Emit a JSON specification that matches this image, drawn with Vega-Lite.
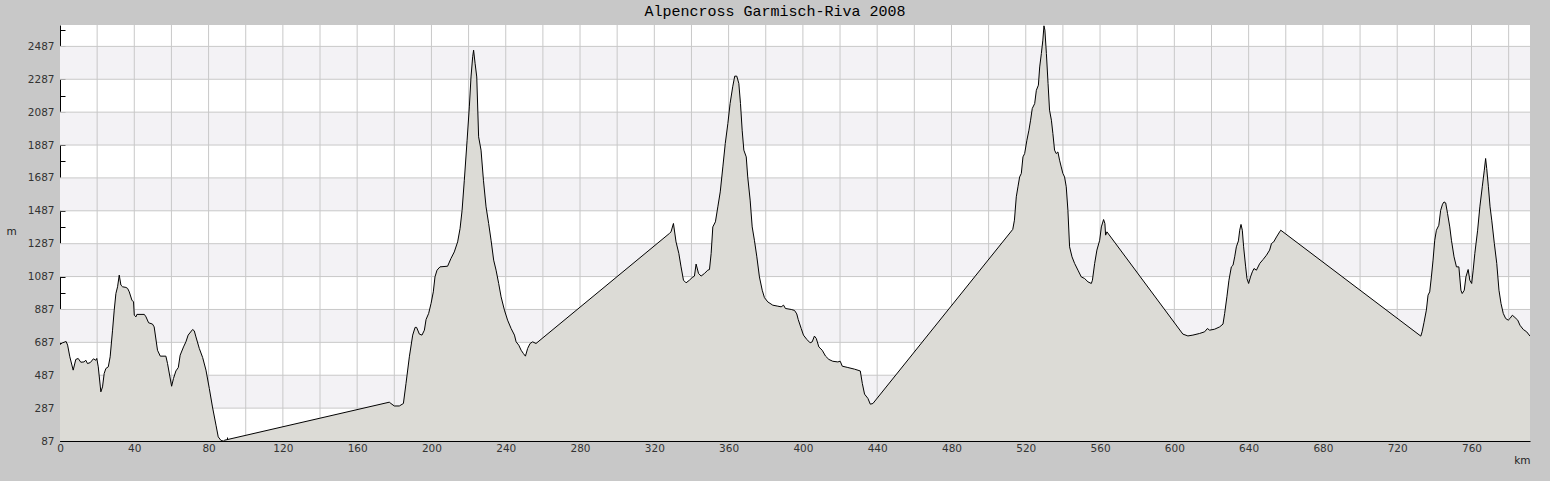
{
"$schema": "https://vega.github.io/schema/vega-lite/v6.json",
"width": 1470, "height": 416,
"autosize": {"type": "none"},
"padding": {"left": 60, "top": 25, "right": 20, "bottom": 40},
"background": "#c8c8c8",
"title": {"text": "Alpencross Garmisch-Riva 2008", "font": "Liberation Mono", "fontSize": 15, "fontWeight": "normal", "color": "#000000", "anchor": "middle", "frame": "group", "dx": -20, "offset": 6},
"config": {
 "view": {"stroke": null, "fill": "#ffffff"},
 "axis": {"zindex": 2, "grid": false, "labelOverlap": false, "labelFlush": false, "tickColor": "#000000", "domainColor": "#000000", "domainWidth": 1, "labelFont": "DejaVu Sans", "labelFontSize": 10.5, "labelColor": "#333333", "titleFont": "DejaVu Sans", "titleFontSize": 10.5, "titleFontWeight": "normal", "titleColor": "#222222"},
 "axisX": {"tickSize": -4, "labelPadding": 6, "titleAnchor": "end", "titleAlign": "right", "titleBaseline": "alphabetic", "titleX": 1470, "titleY": 22},
 "axisY": {"tickSize": -5, "labelPadding": 11, "titleAngle": 0, "titleAlign": "center", "titleBaseline": "middle", "titleX": -49, "titleY": 206}
},
"datasets": {
"bands": [{"lo":287,"hi":487},{"lo":687,"hi":887},{"lo":1087,"hi":1287},{"lo":1487,"hi":1687},{"lo":1887,"hi":2087},{"lo":2287,"hi":2487}],
"vgrid": [{"km":20},{"km":40},{"km":60},{"km":80},{"km":100},{"km":120},{"km":140},{"km":160},{"km":180},{"km":200},{"km":220},{"km":240},{"km":260},{"km":280},{"km":300},{"km":320},{"km":340},{"km":360},{"km":380},{"km":400},{"km":420},{"km":440},{"km":460},{"km":480},{"km":500},{"km":520},{"km":540},{"km":560},{"km":580},{"km":600},{"km":620},{"km":640},{"km":660},{"km":680},{"km":700},{"km":720},{"km":740},{"km":760},{"km":780}],
"hgrid": [{"m":287},{"m":487},{"m":687},{"m":887},{"m":1087},{"m":1287},{"m":1487},{"m":1687},{"m":1887},{"m":2087},{"m":2287},{"m":2487}],
"profile": [
{"km":0,"m":674},{"km":1.3,"m":684},{"km":3.3,"m":692},{"km":4.1,"m":670},{"km":5.3,"m":599},{"km":7.1,"m":518},{"km":8.5,"m":583},{"km":9.8,"m":589},{"km":11.2,"m":566},{"km":12.9,"m":568},{"km":13.9,"m":578},{"km":14.8,"m":558},{"km":16.3,"m":564},{"km":18,"m":587},{"km":19.3,"m":578},{"km":19.8,"m":589},{"km":20.6,"m":538},{"km":22,"m":386},{"km":22.9,"m":416},{"km":23.8,"m":498},{"km":24.7,"m":528},{"km":26,"m":538},{"km":27,"m":599},{"km":28.3,"m":761},{"km":29.2,"m":883},{"km":30.1,"m":984},{"km":31,"m":1025},{"km":31.9,"m":1096},{"km":32.8,"m":1035},{"km":33.7,"m":1025},{"km":35.5,"m":1021},{"km":36.4,"m":1015},{"km":37.3,"m":994},{"km":38.7,"m":944},{"km":39.6,"m":933},{"km":40,"m":852},{"km":40.9,"m":842},{"km":41.4,"m":857},{"km":45.4,"m":857},{"km":46.3,"m":842},{"km":47.7,"m":806},{"km":49.8,"m":798},{"km":50.7,"m":781},{"km":52.5,"m":639},{"km":54,"m":603},{"km":57,"m":603},{"km":57.9,"m":558},{"km":60.1,"m":420},{"km":61.1,"m":467},{"km":62.4,"m":513},{"km":63.7,"m":534},{"km":64.7,"m":609},{"km":66.5,"m":659},{"km":67.8,"m":690},{"km":69,"m":731},{"km":71.4,"m":765},{"km":72.3,"m":757},{"km":73.2,"m":720},{"km":75,"m":650},{"km":76.8,"m":595},{"km":78.6,"m":518},{"km":80.4,"m":406},{"km":82.1,"m":294},{"km":84,"m":183},{"km":85.2,"m":112},{"km":86.7,"m":90},{"km":88,"m":87},{"km":88.7,"m":92},
{"km":177.3,"m":323},{"km":178.2,"m":315},{"km":180,"m":300},{"km":182.7,"m":300},{"km":184.9,"m":315},{"km":186.3,"m":437},{"km":188.1,"m":599},{"km":189.9,"m":731},{"km":191.2,"m":778},{"km":192,"m":778},{"km":193.5,"m":737},{"km":194.9,"m":731},{"km":196.2,"m":761},{"km":197.1,"m":826},{"km":198.5,"m":863},{"km":199.8,"m":924},{"km":201,"m":994},{"km":201.9,"m":1085},{"km":203,"m":1126},{"km":204.6,"m":1146},{"km":208.7,"m":1150},{"km":210.5,"m":1197},{"km":212.3,"m":1237},{"km":214.1,"m":1298},{"km":215.4,"m":1379},{"km":216.5,"m":1490},{"km":217.7,"m":1673},{"km":219.2,"m":1916},{"km":220.4,"m":2119},{"km":221.3,"m":2301},{"km":222.2,"m":2424},{"km":222.7,"m":2464},{"km":223.5,"m":2384},{"km":224.4,"m":2301},{"km":225.4,"m":1937},{"km":226.7,"m":1856},{"km":228,"m":1673},{"km":229.4,"m":1511},{"km":230.8,"m":1410},{"km":232.1,"m":1308},{"km":233.5,"m":1187},{"km":234.8,"m":1126},{"km":236.2,"m":1045},{"km":237.5,"m":964},{"km":239.3,"m":883},{"km":241,"m":822},{"km":242.9,"m":771},{"km":244.7,"m":731},{"km":245.6,"m":690},{"km":247,"m":670},{"km":248.3,"m":639},{"km":249.5,"m":619},{"km":250.6,"m":603},{"km":251.8,"m":650},{"km":253.1,"m":680},{"km":254.5,"m":690},{"km":256.3,"m":680},
{"km":328.1,"m":1349},{"km":329,"m":1359},{"km":330.3,"m":1410},{"km":331.7,"m":1298},{"km":333.2,"m":1228},{"km":334.4,"m":1146},{"km":335.7,"m":1065},{"km":337.1,"m":1049},{"km":338.9,"m":1065},{"km":340.4,"m":1081},{"km":341.6,"m":1090},{"km":342.5,"m":1163},{"km":343.8,"m":1106},{"km":345.2,"m":1090},{"km":347,"m":1106},{"km":348.8,"m":1126},{"km":349.7,"m":1130},{"km":350.6,"m":1228},{"km":351.5,"m":1389},{"km":352.9,"m":1420},{"km":354.2,"m":1511},{"km":355.5,"m":1602},{"km":356.9,"m":1754},{"km":358.2,"m":1896},{"km":359.6,"m":2018},{"km":360.8,"m":2139},{"km":362.2,"m":2241},{"km":363.3,"m":2306},{"km":364.4,"m":2306},{"km":365.5,"m":2262},{"km":366.4,"m":2139},{"km":367.3,"m":1977},{"km":368.2,"m":1856},{"km":369.5,"m":1815},{"km":370.3,"m":1693},{"km":371.6,"m":1552},{"km":372.7,"m":1389},{"km":373.9,"m":1308},{"km":375.2,"m":1207},{"km":376.6,"m":1085},{"km":378.1,"m":1004},{"km":379.3,"m":959},{"km":381.1,"m":933},{"km":383.8,"m":913},{"km":386.5,"m":907},{"km":388.3,"m":903},{"km":389.6,"m":913},{"km":390.6,"m":893},{"km":393.7,"m":887},{"km":395.5,"m":881},{"km":396.7,"m":860},{"km":397.5,"m":825},{"km":399.1,"m":771},{"km":400.3,"m":731},{"km":402.1,"m":705},{"km":403.9,"m":684},{"km":405,"m":690},{"km":406.2,"m":725},{"km":407.2,"m":711},{"km":408.6,"m":659},{"km":410.4,"m":639},{"km":412.2,"m":603},{"km":414,"m":583},{"km":416.1,"m":572},{"km":418.8,"m":568},{"km":420.1,"m":572},{"km":421.2,"m":542},{"km":424.2,"m":534},{"km":427.8,"m":524},{"km":430.9,"m":513},{"km":432,"m":437},{"km":433.2,"m":372},{"km":435,"m":346},{"km":436.3,"m":311},{"km":437.7,"m":315},
{"km":513,"m":1374},{"km":513.9,"m":1430},{"km":514.9,"m":1572},{"km":515.8,"m":1633},{"km":516.7,"m":1693},{"km":517.6,"m":1714},{"km":518.5,"m":1815},{"km":519.4,"m":1835},{"km":520.6,"m":1916},{"km":521.7,"m":1977},{"km":522.6,"m":2038},{"km":523.5,"m":2109},{"km":524.8,"m":2139},{"km":525.7,"m":2220},{"km":526.8,"m":2251},{"km":527.5,"m":2362},{"km":528.4,"m":2444},{"km":529.2,"m":2525},{"km":529.8,"m":2612},{"km":530.3,"m":2586},{"km":531.1,"m":2444},{"km":532,"m":2262},{"km":532.8,"m":2099},{"km":533.8,"m":2038},{"km":534.6,"m":1957},{"km":535.5,"m":1856},{"km":536.4,"m":1835},{"km":537.3,"m":1845},{"km":538.2,"m":1795},{"km":539.1,"m":1754},{"km":540,"m":1714},{"km":540.9,"m":1693},{"km":541.8,"m":1633},{"km":542.7,"m":1490},{"km":543.6,"m":1268},{"km":544.9,"m":1207},{"km":546.3,"m":1167},{"km":548.1,"m":1126},{"km":549.9,"m":1085},{"km":551.7,"m":1075},{"km":553.5,"m":1055},{"km":555.3,"m":1045},{"km":555.9,"m":1065},{"km":557.1,"m":1167},{"km":558.3,"m":1248},{"km":559.8,"m":1308},{"km":560.7,"m":1389},{"km":561.9,"m":1434},{"km":562.6,"m":1410},{"km":563,"m":1339},{"km":563.7,"m":1359},
{"km":604.6,"m":737},{"km":607.3,"m":726},{"km":610,"m":731},{"km":613.6,"m":741},{"km":616.3,"m":751},{"km":617.8,"m":771},{"km":619,"m":761},{"km":621.7,"m":767},{"km":624.4,"m":781},{"km":626.2,"m":798},{"km":627.1,"m":863},{"km":628.3,"m":964},{"km":629.4,"m":1065},{"km":630.7,"m":1146},{"km":631.6,"m":1156},{"km":632.5,"m":1207},{"km":633.4,"m":1268},{"km":634.5,"m":1304},{"km":635.2,"m":1369},{"km":635.9,"m":1404},{"km":636.6,"m":1369},{"km":637.3,"m":1268},{"km":638.4,"m":1146},{"km":639.1,"m":1075},{"km":640,"m":1045},{"km":641,"m":1085},{"km":642,"m":1116},{"km":642.9,"m":1136},{"km":644.2,"m":1126},{"km":646,"m":1167},{"km":647.8,"m":1191},{"km":649.6,"m":1217},{"km":651.3,"m":1248},{"km":652.3,"m":1288},{"km":653.5,"m":1298},{"km":655,"m":1328},{"km":656.7,"m":1359},{"km":657.3,"m":1369},
{"km":732.7,"m":725},{"km":733.4,"m":751},{"km":734.4,"m":806},{"km":735.7,"m":883},{"km":736.6,"m":974},{"km":737.5,"m":994},{"km":738.4,"m":1085},{"km":739.3,"m":1187},{"km":740.2,"m":1308},{"km":741.1,"m":1369},{"km":742.4,"m":1399},{"km":743.4,"m":1490},{"km":744.4,"m":1527},{"km":745.2,"m":1541},{"km":746.1,"m":1535},{"km":747.1,"m":1471},{"km":748.3,"m":1389},{"km":749.2,"m":1308},{"km":750.6,"m":1207},{"km":751.9,"m":1146},{"km":753.2,"m":1146},{"km":754.3,"m":1004},{"km":755,"m":984},{"km":756.1,"m":1004},{"km":757,"m":1085},{"km":758.2,"m":1130},{"km":759.1,"m":1065},{"km":760.1,"m":1045},{"km":760.9,"m":1126},{"km":761.8,"m":1228},{"km":763.3,"m":1369},{"km":764.5,"m":1511},{"km":765.8,"m":1633},{"km":766.9,"m":1734},{"km":767.6,"m":1805},{"km":768.2,"m":1744},{"km":769.1,"m":1633},{"km":770,"m":1511},{"km":770.9,"m":1430},{"km":772.3,"m":1288},{"km":773.6,"m":1167},{"km":774.8,"m":1004},{"km":775.9,"m":923},{"km":777.1,"m":863},{"km":778.4,"m":832},{"km":779.8,"m":822},{"km":780.7,"m":832},{"km":782,"m":852},{"km":783.4,"m":838},{"km":784.9,"m":822},{"km":786.1,"m":791},{"km":787.9,"m":765},{"km":789.7,"m":751},{"km":791.5,"m":725}
]
},
"layer": [
{"data": {"name": "bands"}, "mark": {"type": "rect", "color": "#f3f2f5"},
 "encoding": {"y": {"field": "lo", "type": "quantitative", "scale": {"domain": [87, 2617], "nice": false, "zero": false},
   "axis": {"title": "m", "format": "d", "values": [87,187,287,387,487,587,687,787,887,987,1087,1187,1287,1387,1487,1587,1687,1787,1887,1987,2087,2187,2287,2387,2487,2587], "labelExpr": "(datum.value - 87) % 200 == 0 ? datum.label : ''"}},
  "y2": {"field": "hi"}}},
{"data": {"name": "vgrid"}, "mark": {"type": "rule", "color": "#c8c8c8", "strokeWidth": 1},
 "encoding": {"x": {"field": "km", "type": "quantitative", "scale": {"domain": [0, 791.5], "nice": false, "zero": false},
   "axis": {"title": "km", "format": "d", "values": [0,10,20,30,40,50,60,70,80,90,100,110,120,130,140,150,160,170,180,190,200,210,220,230,240,250,260,270,280,290,300,310,320,330,340,350,360,370,380,390,400,410,420,430,440,450,460,470,480,490,500,510,520,530,540,550,560,570,580,590,600,610,620,630,640,650,660,670,680,690,700,710,720,730,740,750,760,770,780,790], "labelExpr": "datum.value % 40 == 0 ? datum.label : ''"}}}},
{"data": {"name": "hgrid"}, "mark": {"type": "rule", "color": "#c8c8c8", "strokeWidth": 1},
 "encoding": {"y": {"field": "m", "type": "quantitative",
   "axis": {"title": "m", "format": "d", "values": [87,187,287,387,487,587,687,787,887,987,1087,1187,1287,1387,1487,1587,1687,1787,1887,1987,2087,2187,2287,2387,2487,2587], "labelExpr": "(datum.value - 87) % 200 == 0 ? datum.label : ''"}}}},
{"data": {"name": "profile"}, "mark": {"type": "area", "color": "#dcdbd6", "opacity": 1, "clip": true, "line": {"color": "#000000", "strokeWidth": 1}},
 "encoding": {
  "x": {"field": "km", "type": "quantitative",
   "axis": {"title": "km", "format": "d", "values": [0,10,20,30,40,50,60,70,80,90,100,110,120,130,140,150,160,170,180,190,200,210,220,230,240,250,260,270,280,290,300,310,320,330,340,350,360,370,380,390,400,410,420,430,440,450,460,470,480,490,500,510,520,530,540,550,560,570,580,590,600,610,620,630,640,650,660,670,680,690,700,710,720,730,740,750,760,770,780,790], "labelExpr": "datum.value % 40 == 0 ? datum.label : ''"}},
  "y": {"field": "m", "type": "quantitative",
   "axis": {"title": "m", "format": "d", "values": [87,187,287,387,487,587,687,787,887,987,1087,1187,1287,1387,1487,1587,1687,1787,1887,1987,2087,2187,2287,2387,2487,2587], "labelExpr": "(datum.value - 87) % 200 == 0 ? datum.label : ''"}}
 }}
]
}
